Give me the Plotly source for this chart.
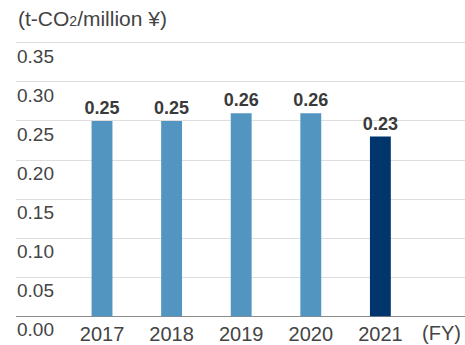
import plotly.graph_objects as go

# Emission intensity per fiscal year
years = ["2017", "2018", "2019", "2020", "2021"]
intensity = [0.25, 0.25, 0.26, 0.26, 0.23]
bar_colors = ["#5195c0", "#5195c0", "#5195c0", "#5195c0", "#00366b"]
y_ticks = [0.00, 0.05, 0.10, 0.15, 0.20, 0.25, 0.30, 0.35]
y_tick_text = [f"{v:.2f}" for v in y_ticks]

font_family = "Liberation Sans, Arial, sans-serif"

fig = go.Figure(
    go.Bar(
        x=list(range(len(years))),
        y=intensity,
        marker=dict(color=bar_colors, line=dict(width=0)),
        width=0.30,
        text=[f"{v:.2f}" for v in intensity],
        textposition="outside",
        textfont=dict(family=font_family, size=18, color="#3a3a3a", weight="bold"),
        constraintext="none",
        cliponaxis=False,
        hoverinfo="skip",
    )
)

fig.update_layout(
    width=465,
    height=345,
    margin=dict(l=16, r=0, t=30, b=0),
    paper_bgcolor="white",
    plot_bgcolor="white",
    showlegend=False,
    font=dict(family=font_family, color="#444444"),
    xaxis=dict(
        range=[-1.236, 5.216],
        tickmode="array",
        tickvals=list(range(len(years))),
        ticktext=years,
        tickfont=dict(size=20, color="#444444"),
        ticklabelposition="inside",
        ticklabelstandoff=-5,
        showgrid=False,
        zeroline=False,
        showline=False,
        ticks="",
    ),
    yaxis=dict(
        range=[-0.03436, 0.36655],
        tickmode="array",
        tickvals=y_ticks,
        ticktext=y_tick_text,
        tickfont=dict(size=19, color="#444444"),
        ticklabelposition="inside",
        ticklabelshift=13,
        ticklabelstandoff=-2,
        showgrid=True,
        gridcolor="#dedede",
        gridwidth=1,
        zeroline=True,
        zerolinecolor="#8c8c8c",
        zerolinewidth=1,
        showline=False,
        ticks="",
    ),
    annotations=[
        dict(
            text='(t-CO<span style="font-size:14px">2</span>/million ¥)',
            xref="paper", yref="y",
            x=0, y=0.35, xanchor="left", yanchor="bottom",
            yshift=11,
            showarrow=False,
            font=dict(size=21, color="#444444"),
        ),
        dict(
            text="(FY)",
            xref="x", yref="y",
            x=4.885, y=0, xanchor="center", yanchor="middle",
            yshift=-17,
            borderpad=0,
            showarrow=False,
            font=dict(size=20, color="#444444"),
        ),
    ],
)

fig.write_html("out.html")
